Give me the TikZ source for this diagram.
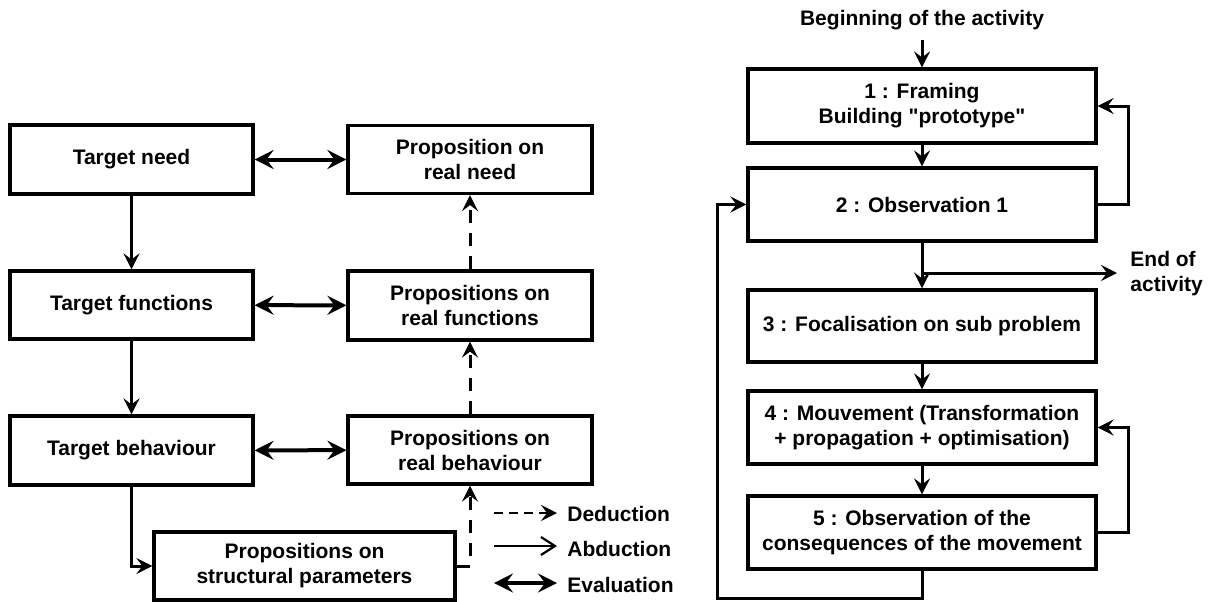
\documentclass[tikz,border=0pt]{standalone}
\usepackage{fontspec}
\setmainfont{Liberation Sans}[Ligatures=TeXOff]
\usetikzlibrary{arrows.meta}
\begin{document}
\begin{tikzpicture}[x=0.5pt,y=-0.5pt,
  font=\fontsize{10.5}{12.5}\selectfont\bfseries,
  box/.style={draw, line width=1.6pt, inner sep=0pt, align=center, minimum width=#1},
  box/.default=121.5pt,
  abd/.style={line width=1.5pt, -{Stealth[length=8pt,width=8pt,inset=3pt]}},
  ded/.style={abd, dash pattern=on 6.5pt off 5pt},
  evl/.style={line width=2pt, {Stealth[length=9.5pt,width=9.5pt,inset=3.5pt]}-{Stealth[length=9.5pt,width=9.5pt,inset=3.5pt]}},
  lbl/.style={anchor=west, inner sep=0pt, align=left}]
\useasboundingbox (0,0) rectangle (1210,601);
% left diagram
\node[box, minimum height=34.5pt] (tn) at (131.5,159.5) {Target need};
\node[box=122pt, minimum height=34pt] (rn) at (470,159.5) {Proposition on\\real need};
\node[box, minimum height=34pt] (tf) at (131.5,305) {Target functions};
\node[box=122pt, minimum height=34.5pt] (rf) at (470,305.5) {Propositions on\\real functions};
\node[box, minimum height=34.5pt] (tb) at (131.5,450.5) {Target behaviour};
\node[box=122pt, minimum height=34pt] (rb) at (470,450) {Propositions on\\real behaviour};
\node[box=150.5pt, minimum height=34pt] (sp) at (304.5,566) {Propositions on\\structural parameters};
\draw[abd] (tn) -- (tf);
\draw[abd] (tf) -- (tb);
\draw[abd] (tb.south) |- (sp.west);
\draw[evl] (tn) -- (rn);
\draw[evl] (tf) -- (rf);
\draw[evl] (tb) -- (rb);
\draw[ded] (sp.east) -| (rb.south);
\draw[ded] (rb) -- (rf);
\draw[ded] (rf) -- (rn);
% legend
\coordinate (d1) at (494,513); \coordinate (d2) at (557,513);
\coordinate (a1) at (494,546); \coordinate (a2) at (557,546);
\coordinate (e1) at (494,583); \coordinate (e2) at (557,583);
\draw[abd, line width=1.2pt, dash pattern=on 4.5pt off 3pt] (d1) -- (d2);
\draw[line width=1.1pt, -{Straight Barb[length=7pt,width=9pt]}] (a1) -- (a2);
\draw[evl] (e1) -- (e2);
\node[lbl] (ld) at (567,514) {Deduction};
\node[lbl] (la) at (567,549) {Abduction};
\node[lbl] (le) at (567,585) {Evaluation};
% right diagram
\node[inner sep=0pt] (beg) at (922,20) {Beginning of the activity};
\node[box=174pt, minimum height=37pt] (b1) at (922,106) {1 : Framing\\Building "prototype"};
\node[box=174pt, minimum height=36.5pt] (b2) at (922,204.5) {2 : Observation 1};
\node[box=174pt, minimum height=36pt] (b3) at (922,326) {3 : Focalisation on sub problem};
\node[box=174pt, minimum height=36.5pt] (b4) at (922,427.5) {4 : Mouvement (Transformation\\+ propagation + optimisation)};
\node[box=174pt, minimum height=36.5pt] (b5) at (922,532.5) {5 : Observation of the\\consequences of the movement};
\draw[abd, shorten <=5pt] (beg) -- (b1);
\draw[abd] (b1) -- (b2);
\draw[abd] (b2.east) -- ++(31,0) |- (b1.east);
\draw[abd] (b2) -- (b3);
\coordinate (br) at (922,273);
\coordinate (eo) at (1117,273);
\draw[abd] (br) -- (eo);
\node[lbl] (eoa) at (1130,274) {End of\\activity};
\draw[abd] (b3) -- (b4);
\draw[abd] (b4) -- (b5);
\draw[abd] (b5.east) -- ++(31,0) |- (b4.east);
\coordinate (c1) at (717,598.5);
\draw[abd] (b5.south) |- (c1) |- (b2.west);
\end{tikzpicture}
\end{document}
